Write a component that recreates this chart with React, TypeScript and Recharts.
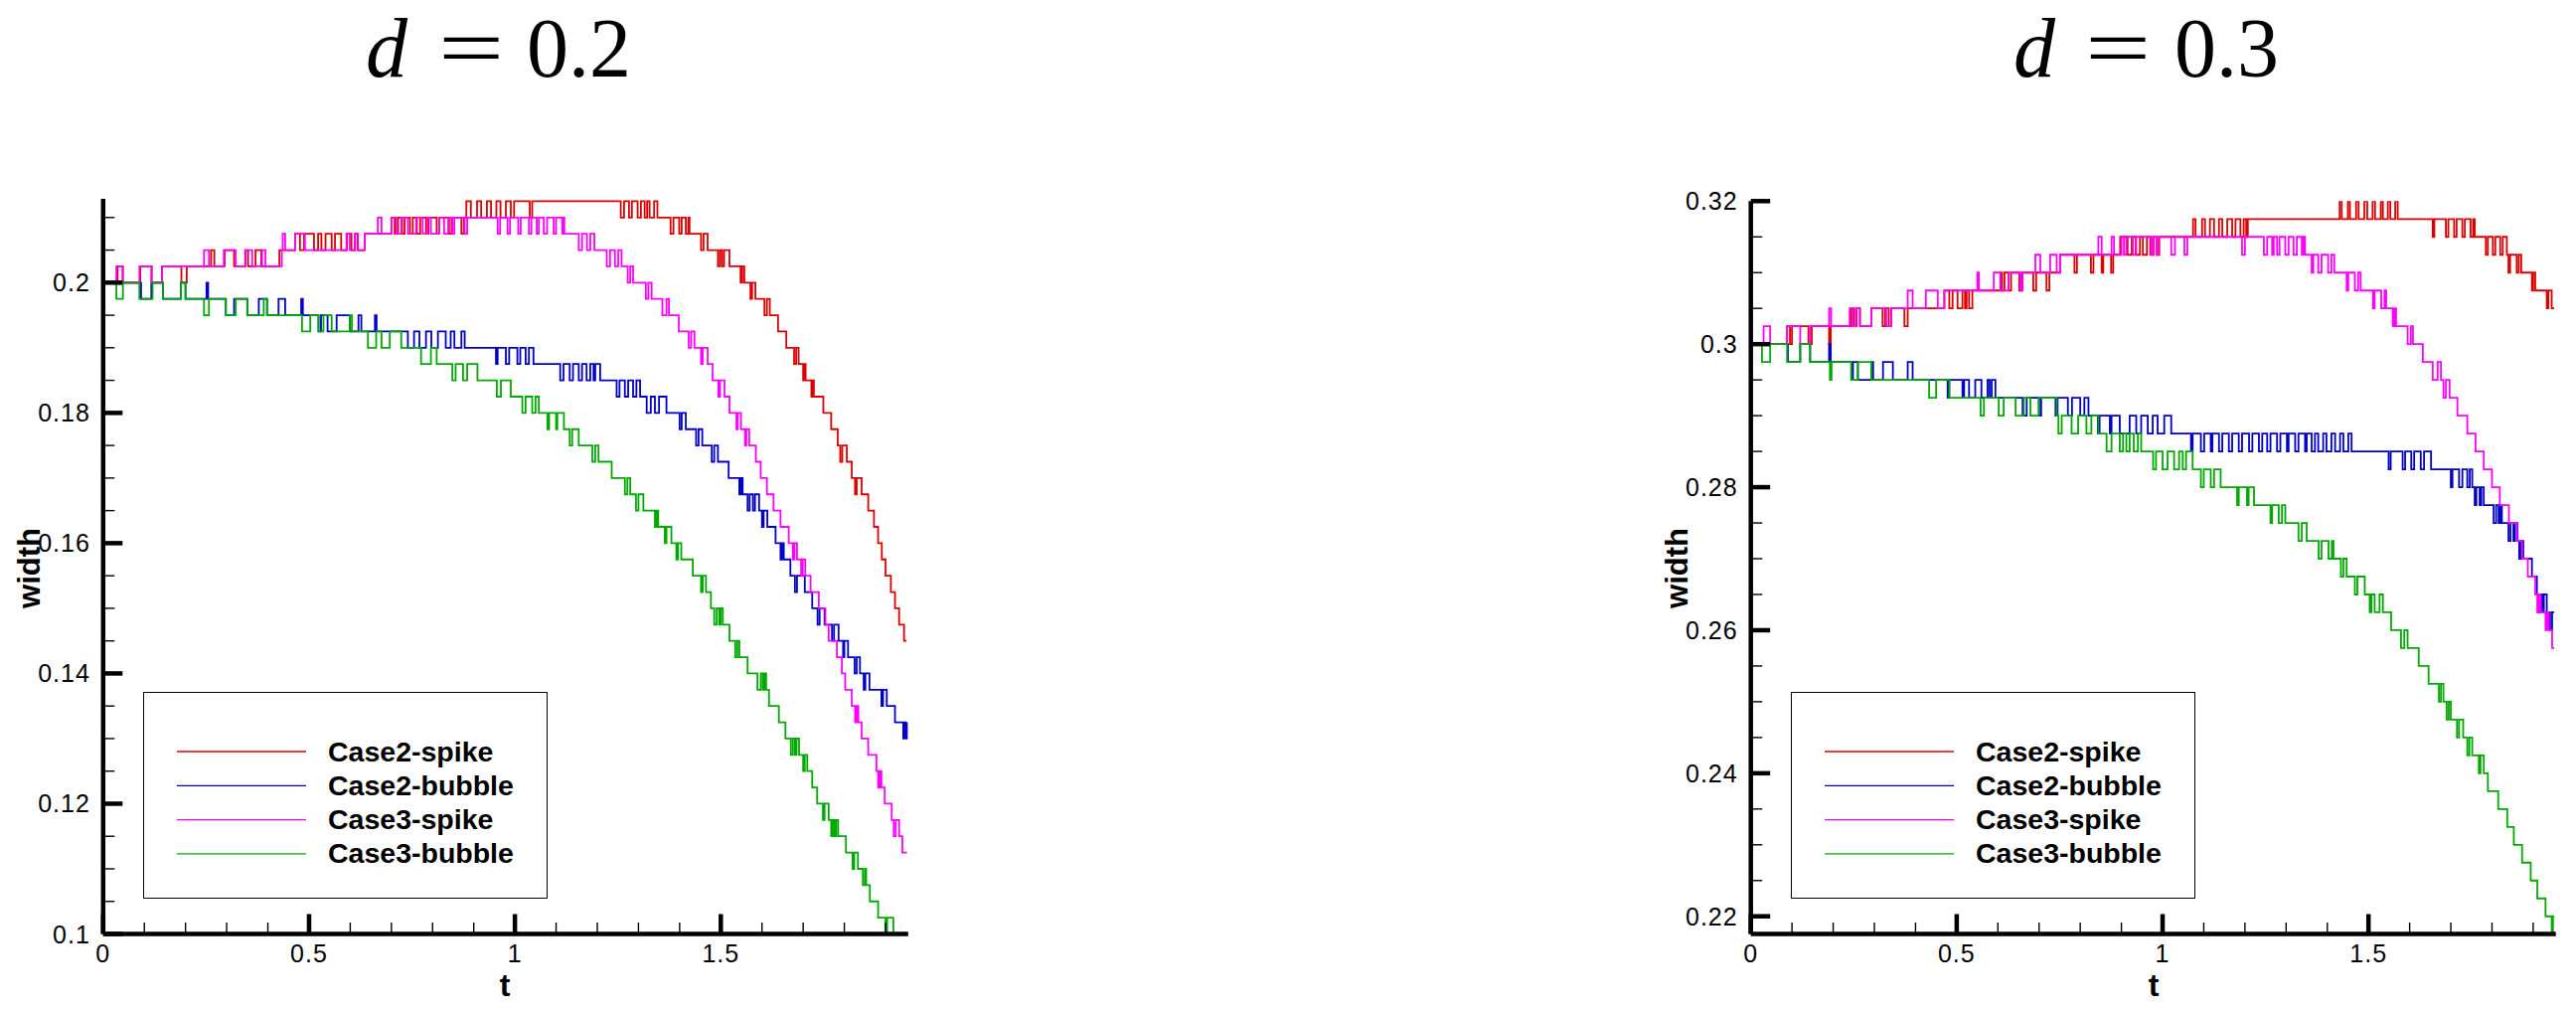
import React from 'react';
import { LineChart, Line, XAxis, YAxis, Legend } from 'recharts';

type Pt = [number, number];

// ---------- series meta ----------
const seriesNames = ['Case2-spike', 'Case2-bubble', 'Case3-spike', 'Case3-bubble'];
const seriesColors = ['#dd0000', '#0000c8', '#ff00ff', '#00aa00'];

// ---------- d = 0.2 ----------
const case2SpikeD02: Pt[] = [
  [0, 0.2], [0.035, 0.2025], [0.048, 0.2], [0.09, 0.2025], [0.118, 0.2], [0.143, 0.2025],
  [0.19, 0.2], [0.203, 0.2025],
  [0.262, 0.205], [0.27, 0.2025], [0.295, 0.205], [0.318, 0.2025], [0.345, 0.205], [0.352, 0.2025], [0.37, 0.205], [0.384, 0.2025],
  [0.428, 0.205],
  [0.466, 0.2075], [0.478, 0.205], [0.488, 0.2075], [0.512, 0.205], [0.522, 0.2075], [0.53, 0.205], [0.54, 0.2075], [0.555, 0.205],
  [0.563, 0.2075], [0.578, 0.205], [0.592, 0.2075], [0.603, 0.205], [0.612, 0.2075], [0.618, 0.205], [0.635, 0.2075],
  [0.7, 0.21], [0.708, 0.2075], [0.716, 0.21], [0.726, 0.2075], [0.732, 0.21], [0.745, 0.2075], [0.752, 0.21], [0.762, 0.2075],
  [0.77, 0.21], [0.784, 0.2075], [0.79, 0.21], [0.81, 0.2075], [0.816, 0.21], [0.84, 0.2075], [0.846, 0.21], [0.87, 0.2075], [0.876, 0.21],
  [0.882, 0.2125], [0.893, 0.21], [0.908, 0.2125], [0.918, 0.21], [0.932, 0.2125], [0.942, 0.21], [0.955, 0.2125], [0.965, 0.21],
  [0.978, 0.2125], [0.99, 0.21], [0.998, 0.2125], [1.036, 0.21], [1.042, 0.2125],
  [1.257, 0.21], [1.265, 0.2125], [1.277, 0.21], [1.284, 0.2125], [1.298, 0.21], [1.306, 0.2125], [1.315, 0.21], [1.321, 0.2125],
  [1.327, 0.21], [1.338, 0.2125], [1.346, 0.21],
  [1.378, 0.2075], [1.385, 0.21], [1.399, 0.2075], [1.405, 0.21], [1.415, 0.2075], [1.421, 0.21], [1.424, 0.2075],
  [1.452, 0.205], [1.458, 0.2075], [1.468, 0.205],
  [1.493, 0.2025], [1.498, 0.205], [1.503, 0.2025], [1.508, 0.205], [1.521, 0.2025],
  [1.548, 0.2], [1.552, 0.2025], [1.557, 0.2],
  [1.572, 0.1975], [1.576, 0.2], [1.584, 0.1975],
  [1.606, 0.195], [1.612, 0.1975], [1.619, 0.195],
  [1.639, 0.1925], [1.659, 0.19],
  [1.678, 0.1875], [1.683, 0.19], [1.689, 0.1875],
  [1.7, 0.185], [1.704, 0.1875], [1.706, 0.185],
  [1.72, 0.1825], [1.722, 0.185], [1.726, 0.1825],
  [1.749, 0.18], [1.768, 0.1775], [1.784, 0.175],
  [1.79, 0.1725], [1.795, 0.175], [1.806, 0.1725],
  [1.818, 0.17], [1.826, 0.1675], [1.83, 0.17], [1.842, 0.1675],
  [1.858, 0.165], [1.872, 0.1625], [1.882, 0.16], [1.891, 0.1575], [1.9, 0.155],
  [1.913, 0.1525], [1.923, 0.15], [1.933, 0.1475], [1.945, 0.145], [1.951, 0.145],
];

const case2BubbleD02: Pt[] = [
  [0, 0.2], [0.092, 0.1975], [0.117, 0.2], [0.145, 0.1975], [0.189, 0.2], [0.2, 0.1975], [0.251, 0.2], [0.255, 0.1975],
  [0.298, 0.195], [0.318, 0.1975], [0.35, 0.195], [0.378, 0.1975], [0.398, 0.195], [0.426, 0.1975], [0.442, 0.195], [0.481, 0.1975], [0.485, 0.195],
  [0.523, 0.1925], [0.529, 0.195], [0.545, 0.1925], [0.567, 0.195], [0.599, 0.1925], [0.62, 0.195], [0.627, 0.1925], [0.66, 0.195], [0.664, 0.1925],
  [0.74, 0.19], [0.755, 0.1925], [0.768, 0.19], [0.784, 0.1925], [0.797, 0.19], [0.813, 0.1925], [0.832, 0.19], [0.844, 0.1925],
  [0.853, 0.19], [0.87, 0.1925], [0.878, 0.19],
  [0.954, 0.1875], [0.958, 0.19], [0.978, 0.1875], [0.986, 0.19], [1.006, 0.1875], [1.013, 0.19], [1.026, 0.1875], [1.034, 0.19], [1.045, 0.1875],
  [1.11, 0.185], [1.118, 0.1875], [1.133, 0.185], [1.141, 0.1875], [1.155, 0.185], [1.163, 0.1875], [1.174, 0.185], [1.183, 0.1875],
  [1.191, 0.185], [1.195, 0.1875], [1.207, 0.185],
  [1.247, 0.1825], [1.254, 0.185], [1.267, 0.1825], [1.275, 0.185], [1.287, 0.1825], [1.295, 0.185], [1.304, 0.1825],
  [1.32, 0.18], [1.33, 0.1825], [1.34, 0.18], [1.35, 0.1825], [1.368, 0.18],
  [1.4, 0.1775], [1.405, 0.18], [1.415, 0.1775],
  [1.44, 0.175], [1.446, 0.1775], [1.455, 0.175],
  [1.478, 0.1725], [1.484, 0.175], [1.493, 0.1725],
  [1.519, 0.17],
  [1.545, 0.1675], [1.549, 0.17], [1.553, 0.1675],
  [1.565, 0.165], [1.57, 0.1675], [1.578, 0.165], [1.583, 0.1675], [1.593, 0.165],
  [1.6, 0.1625], [1.604, 0.165], [1.613, 0.1625],
  [1.633, 0.16],
  [1.645, 0.1575], [1.649, 0.16], [1.653, 0.1575],
  [1.669, 0.155], [1.68, 0.1525], [1.685, 0.155], [1.704, 0.1525],
  [1.722, 0.15], [1.735, 0.1475], [1.74, 0.15], [1.752, 0.1475],
  [1.77, 0.145], [1.775, 0.1475], [1.786, 0.145],
  [1.797, 0.1425], [1.8, 0.145], [1.809, 0.1425],
  [1.825, 0.14], [1.83, 0.1425], [1.838, 0.14],
  [1.847, 0.1375], [1.851, 0.14], [1.861, 0.1375],
  [1.89, 0.135], [1.894, 0.1375], [1.903, 0.135],
  [1.923, 0.1325], [1.943, 0.13], [1.946, 0.1325], [1.949, 0.13], [1.952, 0.1325],
];

const case3SpikeD02: Pt[] = [
  [0, 0.2], [0.032, 0.2025], [0.047, 0.2], [0.088, 0.2025], [0.117, 0.2], [0.143, 0.2025],
  [0.245, 0.205], [0.257, 0.2025], [0.293, 0.205], [0.322, 0.2025], [0.346, 0.205], [0.362, 0.2025], [0.386, 0.205], [0.394, 0.2025],
  [0.434, 0.205], [0.436, 0.2075], [0.442, 0.205], [0.466, 0.2075], [0.49, 0.205], [0.591, 0.2075], [0.599, 0.205], [0.611, 0.2075], [0.619, 0.205],
  [0.635, 0.2075],
  [0.667, 0.21], [0.676, 0.2075], [0.7, 0.21], [0.712, 0.2075], [0.724, 0.21], [0.74, 0.2075], [0.76, 0.21], [0.776, 0.2075],
  [0.788, 0.21], [0.796, 0.2075], [0.816, 0.21], [0.828, 0.2075], [0.838, 0.21], [0.848, 0.2075], [0.853, 0.21], [0.878, 0.2075], [0.884, 0.21],
  [0.958, 0.2075], [0.964, 0.21], [0.982, 0.2075], [0.988, 0.21], [1.008, 0.2075], [1.014, 0.21], [1.034, 0.2075], [1.04, 0.21],
  [1.053, 0.2075], [1.058, 0.21], [1.07, 0.2075], [1.078, 0.21], [1.094, 0.2075], [1.1, 0.21], [1.115, 0.2075], [1.119, 0.21],
  [1.12, 0.2075],
  [1.155, 0.205], [1.163, 0.2075], [1.175, 0.205], [1.183, 0.2075], [1.193, 0.205],
  [1.223, 0.2025], [1.231, 0.205], [1.243, 0.2025], [1.251, 0.205], [1.259, 0.2025],
  [1.274, 0.2], [1.28, 0.2025], [1.287, 0.2],
  [1.318, 0.1975], [1.324, 0.2], [1.332, 0.1975],
  [1.358, 0.195], [1.368, 0.1975], [1.374, 0.195],
  [1.398, 0.1925],
  [1.422, 0.19], [1.428, 0.1925], [1.436, 0.19],
  [1.452, 0.1875], [1.456, 0.19], [1.468, 0.1875],
  [1.48, 0.185],
  [1.494, 0.1825], [1.498, 0.185], [1.509, 0.1825],
  [1.521, 0.18],
  [1.538, 0.1775], [1.541, 0.18], [1.549, 0.1775],
  [1.559, 0.175], [1.562, 0.1775], [1.569, 0.175],
  [1.585, 0.1725], [1.597, 0.17], [1.612, 0.1675], [1.628, 0.165], [1.645, 0.1625],
  [1.665, 0.16], [1.675, 0.1575], [1.679, 0.16], [1.685, 0.1575],
  [1.695, 0.155], [1.699, 0.1575], [1.705, 0.155],
  [1.718, 0.1525], [1.738, 0.15], [1.754, 0.1475], [1.762, 0.145], [1.782, 0.1425], [1.794, 0.14], [1.802, 0.1375], [1.818, 0.135],
  [1.826, 0.1325], [1.83, 0.135], [1.834, 0.1325],
  [1.842, 0.13], [1.858, 0.1275],
  [1.878, 0.125], [1.882, 0.1225], [1.886, 0.125], [1.89, 0.1225],
  [1.898, 0.12], [1.915, 0.1175], [1.92, 0.115], [1.925, 0.1175], [1.933, 0.115],
  [1.941, 0.1125], [1.952, 0.1125],
];

const case3BubbleD02: Pt[] = [
  [0, 0.2], [0.032, 0.1975], [0.048, 0.2], [0.088, 0.1975], [0.12, 0.2], [0.145, 0.1975], [0.189, 0.2], [0.2, 0.1975],
  [0.245, 0.195], [0.257, 0.1975],
  [0.298, 0.195], [0.322, 0.1975], [0.35, 0.195], [0.39, 0.1975], [0.398, 0.195],
  [0.483, 0.1925], [0.503, 0.195], [0.523, 0.1925], [0.535, 0.195], [0.555, 0.1925], [0.599, 0.195], [0.604, 0.1925],
  [0.643, 0.19], [0.663, 0.1925], [0.676, 0.19], [0.696, 0.1925], [0.724, 0.19],
  [0.772, 0.1875], [0.796, 0.19], [0.81, 0.1875],
  [0.848, 0.185], [0.856, 0.1875], [0.874, 0.185], [0.884, 0.1875], [0.909, 0.185],
  [0.956, 0.1825], [0.966, 0.185], [0.99, 0.1825],
  [1.018, 0.18], [1.026, 0.1825], [1.042, 0.18], [1.05, 0.1825], [1.058, 0.18],
  [1.079, 0.1775], [1.083, 0.18], [1.1, 0.1775], [1.103, 0.18], [1.119, 0.1775],
  [1.133, 0.175], [1.139, 0.1775], [1.155, 0.175],
  [1.188, 0.1725], [1.195, 0.175], [1.203, 0.1725],
  [1.235, 0.17],
  [1.267, 0.1675], [1.273, 0.17], [1.28, 0.1675],
  [1.294, 0.165], [1.3, 0.1675], [1.312, 0.165],
  [1.34, 0.1625], [1.344, 0.165], [1.348, 0.1625],
  [1.364, 0.16], [1.368, 0.1625], [1.38, 0.16],
  [1.392, 0.1575], [1.396, 0.16], [1.404, 0.1575],
  [1.432, 0.155],
  [1.452, 0.1525], [1.456, 0.155], [1.464, 0.1525],
  [1.476, 0.15],
  [1.484, 0.1475], [1.49, 0.15], [1.496, 0.1475], [1.5, 0.15], [1.505, 0.1475],
  [1.521, 0.145],
  [1.535, 0.1425], [1.54, 0.145], [1.545, 0.1425],
  [1.565, 0.14],
  [1.589, 0.1375], [1.597, 0.14], [1.602, 0.1375], [1.606, 0.14], [1.61, 0.1375],
  [1.617, 0.135], [1.641, 0.1325], [1.657, 0.13],
  [1.67, 0.1275], [1.675, 0.13], [1.68, 0.1275], [1.684, 0.13], [1.69, 0.1275],
  [1.7, 0.125], [1.704, 0.1275], [1.71, 0.125],
  [1.722, 0.1225], [1.734, 0.12],
  [1.748, 0.1175], [1.752, 0.12], [1.762, 0.1175],
  [1.768, 0.115], [1.772, 0.1175], [1.776, 0.115], [1.78, 0.1175], [1.785, 0.115],
  [1.804, 0.1125],
  [1.82, 0.11], [1.824, 0.1125], [1.833, 0.11],
  [1.845, 0.1075], [1.85, 0.11], [1.853, 0.1075],
  [1.862, 0.105], [1.882, 0.1025], [1.9, 0.1], [1.904, 0.1025], [1.919, 0.1], [1.932, 0.1],
];

// ---------- d = 0.3 ----------
const case2SpikeD03: Pt[] = [
  [0, 0.3], [0.088, 0.3025], [0.095, 0.3], [0.1, 0.3025], [0.14, 0.3], [0.148, 0.3025], [0.19, 0.3], [0.194, 0.3025],
  [0.244, 0.305], [0.251, 0.3025], [0.257, 0.305], [0.265, 0.3025], [0.293, 0.305], [0.32, 0.3025], [0.326, 0.305], [0.335, 0.3025],
  [0.341, 0.305], [0.373, 0.3025], [0.381, 0.305],
  [0.47, 0.3075], [0.482, 0.305], [0.49, 0.3075], [0.502, 0.305], [0.514, 0.3075], [0.52, 0.305], [0.524, 0.3075], [0.53, 0.305], [0.538, 0.3075],
  [0.606, 0.31], [0.61, 0.3075], [0.616, 0.31], [0.626, 0.3075], [0.632, 0.31], [0.652, 0.3075], [0.658, 0.31], [0.686, 0.3075],
  [0.693, 0.31], [0.718, 0.3075], [0.725, 0.31],
  [0.751, 0.3125], [0.786, 0.31], [0.792, 0.3125], [0.826, 0.31], [0.832, 0.3125], [0.852, 0.31], [0.856, 0.3125], [0.875, 0.31], [0.88, 0.3125],
  [0.897, 0.315], [0.915, 0.3125], [0.925, 0.315], [0.935, 0.3125], [0.945, 0.315], [0.952, 0.3125], [0.962, 0.315], [0.97, 0.3125],
  [0.978, 0.315], [0.985, 0.3125], [0.992, 0.315],
  [1.074, 0.3175], [1.08, 0.315], [1.096, 0.3175], [1.103, 0.315], [1.115, 0.3175], [1.125, 0.315], [1.137, 0.3175], [1.145, 0.315],
  [1.157, 0.3175], [1.169, 0.315], [1.177, 0.3175], [1.189, 0.315], [1.197, 0.3175], [1.203, 0.315], [1.207, 0.3175],
  [1.43, 0.32], [1.435, 0.3175], [1.45, 0.32], [1.455, 0.3175], [1.47, 0.32], [1.476, 0.3175], [1.49, 0.32], [1.497, 0.3175],
  [1.51, 0.32], [1.516, 0.3175], [1.53, 0.32], [1.535, 0.3175], [1.547, 0.32], [1.553, 0.3175], [1.565, 0.32], [1.571, 0.3175],
  [1.656, 0.315], [1.66, 0.3175], [1.688, 0.315], [1.694, 0.3175], [1.708, 0.315], [1.714, 0.3175], [1.728, 0.315], [1.734, 0.3175],
  [1.748, 0.315], [1.754, 0.3175], [1.758, 0.315],
  [1.785, 0.3125], [1.79, 0.315], [1.802, 0.3125], [1.808, 0.315], [1.82, 0.3125], [1.826, 0.315], [1.836, 0.3125],
  [1.84, 0.31], [1.844, 0.3125], [1.86, 0.31], [1.865, 0.3125], [1.871, 0.31],
  [1.897, 0.3075], [1.9, 0.31], [1.905, 0.3075],
  [1.933, 0.305], [1.937, 0.3075], [1.945, 0.305], [1.951, 0.305],
];

const case2BubbleD03: Pt[] = [
  [0, 0.3], [0.09, 0.2975], [0.12, 0.3], [0.144, 0.2975], [0.19, 0.3], [0.194, 0.2975],
  [0.244, 0.295], [0.248, 0.2975], [0.26, 0.295], [0.293, 0.2975], [0.297, 0.295], [0.321, 0.2975], [0.345, 0.295], [0.381, 0.2975], [0.393, 0.295],
  [0.478, 0.2925], [0.482, 0.295], [0.514, 0.2925], [0.518, 0.295], [0.53, 0.2925], [0.545, 0.295], [0.56, 0.2925], [0.575, 0.295],
  [0.58, 0.2925], [0.585, 0.295], [0.594, 0.2925],
  [0.66, 0.29], [0.67, 0.2925], [0.7, 0.29], [0.705, 0.2925], [0.74, 0.29], [0.745, 0.2925], [0.77, 0.29], [0.78, 0.2925],
  [0.8, 0.29], [0.81, 0.2925], [0.82, 0.29],
  [0.843, 0.2875], [0.847, 0.29], [0.872, 0.2875], [0.876, 0.29], [0.896, 0.2875], [0.92, 0.29], [0.936, 0.2875], [0.948, 0.29],
  [0.964, 0.2875], [0.976, 0.29], [0.988, 0.2875], [1.004, 0.29], [1.021, 0.2875],
  [1.069, 0.285], [1.073, 0.2875], [1.093, 0.285], [1.101, 0.2875], [1.117, 0.285], [1.121, 0.2875], [1.137, 0.285], [1.145, 0.2875],
  [1.161, 0.285], [1.169, 0.2875], [1.185, 0.285], [1.193, 0.2875], [1.21, 0.285], [1.218, 0.2875], [1.234, 0.285], [1.242, 0.2875],
  [1.254, 0.285], [1.262, 0.2875], [1.278, 0.285], [1.286, 0.2875], [1.302, 0.285], [1.306, 0.2875], [1.322, 0.285], [1.33, 0.2875],
  [1.346, 0.285], [1.35, 0.2875], [1.362, 0.285], [1.37, 0.2875], [1.378, 0.285], [1.39, 0.2875], [1.398, 0.285], [1.41, 0.2875],
  [1.419, 0.285], [1.431, 0.2875], [1.439, 0.285], [1.451, 0.2875], [1.459, 0.285],
  [1.549, 0.2825], [1.554, 0.285], [1.583, 0.2825], [1.589, 0.285], [1.604, 0.2825], [1.611, 0.285], [1.627, 0.2825], [1.635, 0.285], [1.652, 0.2825],
  [1.7, 0.28], [1.704, 0.2825], [1.72, 0.28], [1.728, 0.2825], [1.74, 0.28], [1.746, 0.2825], [1.752, 0.28],
  [1.758, 0.2775], [1.762, 0.28], [1.77, 0.2775], [1.774, 0.28], [1.78, 0.2775],
  [1.804, 0.275], [1.81, 0.2775], [1.816, 0.275], [1.82, 0.2775], [1.824, 0.275],
  [1.84, 0.2725], [1.845, 0.275], [1.852, 0.2725], [1.856, 0.275], [1.862, 0.2725],
  [1.866, 0.27], [1.87, 0.2725], [1.876, 0.27],
  [1.897, 0.2675],
  [1.909, 0.265], [1.913, 0.2625], [1.917, 0.265], [1.922, 0.2625], [1.926, 0.265], [1.933, 0.2625],
  [1.941, 0.26], [1.946, 0.2625], [1.951, 0.2625],
];

const case3SpikeD03: Pt[] = [
  [0, 0.3], [0.031, 0.3025], [0.047, 0.3], [0.088, 0.3025], [0.12, 0.3], [0.144, 0.3025], [0.19, 0.305], [0.195, 0.3025],
  [0.24, 0.305], [0.248, 0.3025], [0.256, 0.305], [0.265, 0.3025], [0.293, 0.305], [0.329, 0.3025], [0.341, 0.305],
  [0.381, 0.3075], [0.393, 0.305], [0.425, 0.3075], [0.454, 0.305], [0.47, 0.3075],
  [0.55, 0.31], [0.554, 0.3075], [0.59, 0.31], [0.606, 0.3075], [0.626, 0.31], [0.655, 0.3075], [0.66, 0.31],
  [0.691, 0.3125], [0.703, 0.31], [0.727, 0.3125], [0.743, 0.31], [0.751, 0.3125],
  [0.844, 0.315], [0.852, 0.3125], [0.876, 0.315], [0.882, 0.3125], [0.9, 0.315], [0.906, 0.3125], [0.912, 0.315],
  [0.928, 0.3125], [0.936, 0.315], [0.972, 0.3125], [0.976, 0.315], [0.985, 0.3125], [0.99, 0.315], [1.021, 0.3125], [1.03, 0.315],
  [1.053, 0.3125], [1.06, 0.315],
  [1.193, 0.3125], [1.2, 0.315], [1.246, 0.3125], [1.254, 0.315], [1.266, 0.3125], [1.27, 0.315], [1.278, 0.3125], [1.284, 0.315],
  [1.298, 0.3125], [1.306, 0.315], [1.318, 0.3125], [1.326, 0.315], [1.338, 0.3125], [1.342, 0.315], [1.346, 0.3125],
  [1.362, 0.31], [1.366, 0.3125], [1.378, 0.31], [1.386, 0.3125], [1.402, 0.31], [1.41, 0.3125], [1.417, 0.31],
  [1.447, 0.3075], [1.451, 0.31], [1.467, 0.3075], [1.475, 0.31], [1.481, 0.3075],
  [1.511, 0.305], [1.515, 0.3075], [1.531, 0.305], [1.539, 0.3075], [1.543, 0.305],
  [1.559, 0.3025], [1.563, 0.305], [1.567, 0.3025],
  [1.595, 0.3], [1.603, 0.3025], [1.608, 0.3],
  [1.632, 0.2975],
  [1.656, 0.295], [1.668, 0.2975], [1.676, 0.295],
  [1.682, 0.2925], [1.688, 0.295], [1.697, 0.2925],
  [1.716, 0.29], [1.74, 0.2875], [1.76, 0.285], [1.78, 0.2825], [1.8, 0.28], [1.819, 0.2775], [1.841, 0.275], [1.861, 0.2725],
  [1.873, 0.27], [1.887, 0.2675],
  [1.905, 0.265], [1.91, 0.2625], [1.914, 0.265], [1.918, 0.2625],
  [1.93, 0.26], [1.934, 0.2625], [1.938, 0.26], [1.946, 0.2575], [1.951, 0.2575],
];

const case3BubbleD03: Pt[] = [
  [0, 0.3], [0.027, 0.2975], [0.047, 0.3], [0.088, 0.2975], [0.12, 0.3], [0.144, 0.2975], [0.192, 0.295], [0.196, 0.2975],
  [0.244, 0.295], [0.26, 0.2975], [0.293, 0.295],
  [0.433, 0.2925], [0.45, 0.295], [0.482, 0.2925],
  [0.558, 0.29], [0.566, 0.2925], [0.602, 0.29], [0.614, 0.2925], [0.643, 0.29], [0.663, 0.2925], [0.679, 0.29], [0.699, 0.2925], [0.743, 0.29],
  [0.747, 0.2875], [0.755, 0.29], [0.779, 0.2875], [0.795, 0.29], [0.815, 0.2875], [0.827, 0.29], [0.844, 0.2875],
  [0.864, 0.285], [0.876, 0.2875], [0.896, 0.285], [0.904, 0.2875], [0.912, 0.285], [0.92, 0.2875], [0.93, 0.285], [0.94, 0.2875], [0.948, 0.285],
  [0.977, 0.2825], [0.984, 0.285], [1.0, 0.2825], [1.012, 0.285], [1.028, 0.2825], [1.04, 0.285], [1.049, 0.2825], [1.057, 0.285], [1.073, 0.2825],
  [1.093, 0.28], [1.1, 0.2825], [1.117, 0.28], [1.125, 0.2825], [1.141, 0.28],
  [1.181, 0.2775], [1.185, 0.28], [1.205, 0.2775], [1.209, 0.28], [1.222, 0.2775],
  [1.262, 0.275], [1.266, 0.2775], [1.282, 0.275], [1.29, 0.2775], [1.298, 0.275],
  [1.33, 0.2725], [1.338, 0.275], [1.35, 0.2725],
  [1.379, 0.27], [1.386, 0.2725], [1.403, 0.27], [1.411, 0.2725], [1.415, 0.27],
  [1.433, 0.2675], [1.439, 0.27], [1.447, 0.2675],
  [1.467, 0.265], [1.473, 0.2675], [1.491, 0.265],
  [1.503, 0.2625], [1.507, 0.265], [1.515, 0.2625], [1.527, 0.265], [1.535, 0.2625],
  [1.555, 0.26],
  [1.579, 0.2575], [1.587, 0.26], [1.595, 0.2575],
  [1.622, 0.255], [1.646, 0.2525],
  [1.671, 0.25], [1.676, 0.2525], [1.682, 0.25],
  [1.69, 0.2475], [1.695, 0.25], [1.7, 0.2475],
  [1.715, 0.245], [1.72, 0.2475], [1.73, 0.245],
  [1.74, 0.2425], [1.745, 0.245], [1.752, 0.2425],
  [1.768, 0.24], [1.772, 0.2425], [1.78, 0.24],
  [1.79, 0.2375], [1.815, 0.235], [1.837, 0.2325], [1.853, 0.23], [1.873, 0.2275], [1.894, 0.225], [1.91, 0.2225], [1.93, 0.22],
  [1.945, 0.2175], [1.948, 0.22], [1.951, 0.22],
];

// ---------- ticks ----------
const xMajorTicks = [0, 0.5, 1, 1.5];
const xMajorLabels = ['0', '0.5', '1', '1.5'];
const xMinorTicks = [0.1, 0.2, 0.3, 0.4, 0.6, 0.7, 0.8, 0.9, 1.1, 1.2, 1.3, 1.4, 1.6, 1.7, 1.8, 1.9];

const yMajorD02 = [0.1, 0.12, 0.14, 0.16, 0.18, 0.2];
const yLabelsD02 = ['0.1', '0.12', '0.14', '0.16', '0.18', '0.2'];
const yMinorD02 = [0.105, 0.11, 0.115, 0.125, 0.13, 0.135, 0.145, 0.15, 0.155, 0.165, 0.17, 0.175, 0.185, 0.19, 0.195, 0.205, 0.21];

const yMajorD03 = [0.22, 0.24, 0.26, 0.28, 0.3, 0.32];
const yLabelsD03 = ['0.22', '0.24', '0.26', '0.28', '0.3', '0.32'];
const yMinorD03 = [0.225, 0.23, 0.235, 0.245, 0.25, 0.255, 0.265, 0.27, 0.275, 0.285, 0.29, 0.295, 0.305, 0.31, 0.315];

const SANS = '"Liberation Sans", Arial, Helvetica, sans-serif';
const SERIF = '"Liberation Serif", "Times New Roman", serif';

const Y_AXIS_W = 100;
const X_AXIS_H = 60;

const toData = (pts: Pt[]) => pts.map(([t, w]) => ({ t, w }));

const findIdx = (arr: number[], v: number) => arr.findIndex((m) => Math.abs(m - v) < 1e-7);

const makeXTick = (props: any) => {
  const { x, y, payload } = props;
  const i = findIdx(xMajorTicks, payload.value);
  const major = i >= 0;
  return (
    <g>
      <line x1={x} x2={x} y1={y} y2={y - (major ? 20 : 11.5)} stroke="#000" strokeWidth={major ? 4.5 : 1.4} />
      {major && (
        <text x={x} y={y + 28.5} textAnchor="middle" fontSize={25} letterSpacing={1} fontFamily={SANS} fill="#000">
          {xMajorLabels[i]}
        </text>
      )}
    </g>
  );
};

const makeYTick = (majors: number[], labels: string[]) => (props: any) => {
  const { x, y, payload } = props;
  const i = findIdx(majors, payload.value);
  const major = i >= 0;
  return (
    <g>
      <line x1={x} x2={x + (major ? 19.5 : 11.5)} y1={y} y2={y} stroke="#000" strokeWidth={major ? 4.5 : 1.4} />
      {major && (
        <text x={x - 13} y={y + 9} textAnchor="end" fontSize={25} letterSpacing={1} fontFamily={SANS} fill="#000">
          {labels[i]}
        </text>
      )}
    </g>
  );
};

const LegendBox = () => (
  <div style={{ width: 407, height: 208.5, border: '1px solid #000', boxSizing: 'border-box', background: '#fff' }}>
    <svg width={405} height={206} style={{ display: 'block' }}>
      {seriesNames.map((n, i) => {
        const ly = 59 + i * 34.3;
        return (
          <g key={n}>
            <line x1={33} x2={163} y1={ly} y2={ly} stroke={seriesColors[i]} strokeWidth={1.3} />
            <text x={185} y={ly + 9.5} fontSize={28.5} fontWeight="bold" fontFamily={SANS} fill="#000">
              {n}
            </text>
          </g>
        );
      })}
    </svg>
  </div>
);

type PanelProps = {
  offsetX: number;
  width: number;
  plotLeft: number;
  plotTop: number;
  yDomain: [number, number];
  yMajor: number[];
  yLabels: string[];
  yMinor: number[];
  series: Pt[][];
  yLabelX: number;
  tLabelX: number;
  legendLeft: number;
};

const PLOT_W = 810;
const PLOT_BOTTOM = 939.5;

const Panel = (p: PanelProps) => {
  const yTick = makeYTick(p.yMajor, p.yLabels);
  const yTicks = [...p.yMajor, ...p.yMinor].sort((a, b) => a - b);
  const xTicks = [...xMajorTicks, ...xMinorTicks].sort((a, b) => a - b);
  const margin = {
    top: p.plotTop,
    left: p.plotLeft - Y_AXIS_W,
    right: p.width - p.plotLeft - PLOT_W,
    bottom: 1018 - PLOT_BOTTOM - X_AXIS_H,
  };
  return (
    <div style={{ position: 'absolute', left: p.offsetX, top: 0, width: p.width, height: 1018 }}>
      <LineChart width={p.width} height={1018} margin={margin}>
        <XAxis
          type="number"
          dataKey="t"
          domain={[0, 1.955]}
          allowDataOverflow
          ticks={xTicks}
          interval={0}
          tick={makeXTick}
          tickLine={false}
          tickSize={0}
          tickMargin={0}
          height={X_AXIS_H}
          axisLine={{ stroke: '#000', strokeWidth: 4.5 }}
          label={{
            content: () => (
              <text x={p.tLabelX} y={1002} textAnchor="middle" fontSize={32} fontWeight="bold" fontFamily={SANS} fill="#000">
                t
              </text>
            ),
          }}
        />
        <YAxis
          type="number"
          domain={p.yDomain}
          allowDataOverflow
          ticks={yTicks}
          interval={0}
          tick={yTick}
          tickLine={false}
          tickSize={0}
          tickMargin={0}
          width={Y_AXIS_W}
          axisLine={{ stroke: '#000', strokeWidth: 4.5 }}
          label={{
            content: () => (
              <text
                x={p.yLabelX}
                y={571.5}
                transform={`rotate(-90, ${p.yLabelX}, 571.5)`}
                textAnchor="middle"
                fontSize={31}
                fontWeight="bold"
                fontFamily={SANS}
                fill="#000"
              >
                width
              </text>
            ),
          }}
        />
        {p.series.map((s, i) => (
          <Line
            key={seriesNames[i]}
            name={seriesNames[i]}
            data={toData(s)}
            dataKey="w"
            type="stepAfter"
            stroke={seriesColors[i]}
            strokeWidth={1.8}
            dot={false}
            activeDot={false}
            isAnimationActive={false}
          />
        ))}
        <Legend
          layout="vertical"
          align="center"
          verticalAlign="middle"
          wrapperStyle={{ left: p.legendLeft, top: 695.5, width: 407, height: 208.5, margin: 0, padding: 0 }}
          content={() => <LegendBox />}
        />
      </LineChart>
    </div>
  );
};

const Title = ({ dx, eqx, numx, num }: { dx: number; eqx: number; numx: number; num: string }) => (
  <g fontFamily={SERIF} fontSize={84} fill="#000">
    <text x={dx} y={77} fontStyle="italic">d</text>
    <text transform={`translate(${eqx}, 77) scale(1.4, 1)`}>=</text>
    <text x={numx} y={77}>{num}</text>
  </g>
);

export default function App() {
  return (
    <div style={{ position: 'absolute', left: 0, top: 0, width: 2592, height: 1018, background: '#fff', overflow: 'hidden' }}>
      <svg width={2592} height={120} style={{ position: 'absolute', left: 0, top: 0 }}>
        <Title dx={368} eqx={441} numx={530} num="0.2" />
        <Title dx={2026} eqx={2098} numx={2188} num="0.3" />
      </svg>
      <Panel
        offsetX={0}
        width={1000}
        plotLeft={103.8}
        plotTop={200}
        yDomain={[0.1, 0.21287]}
        yMajor={yMajorD02}
        yLabels={yLabelsD02}
        yMinor={yMinorD02}
        series={[case2SpikeD02, case2BubbleD02, case3SpikeD02, case3BubbleD02]}
        yLabelX={40}
        tLabelX={508}
        legendLeft={144}
      />
      <Panel
        offsetX={1600}
        width={992}
        plotLeft={161.7}
        plotTop={202.3}
        yDomain={[0.21753, 0.32]}
        yMajor={yMajorD03}
        yLabels={yLabelsD03}
        yMinor={yMinorD03}
        series={[case2SpikeD03, case2BubbleD03, case3SpikeD03, case3BubbleD03]}
        yLabelX={98}
        tLabelX={567}
        legendLeft={202}
      />
    </div>
  );
}
